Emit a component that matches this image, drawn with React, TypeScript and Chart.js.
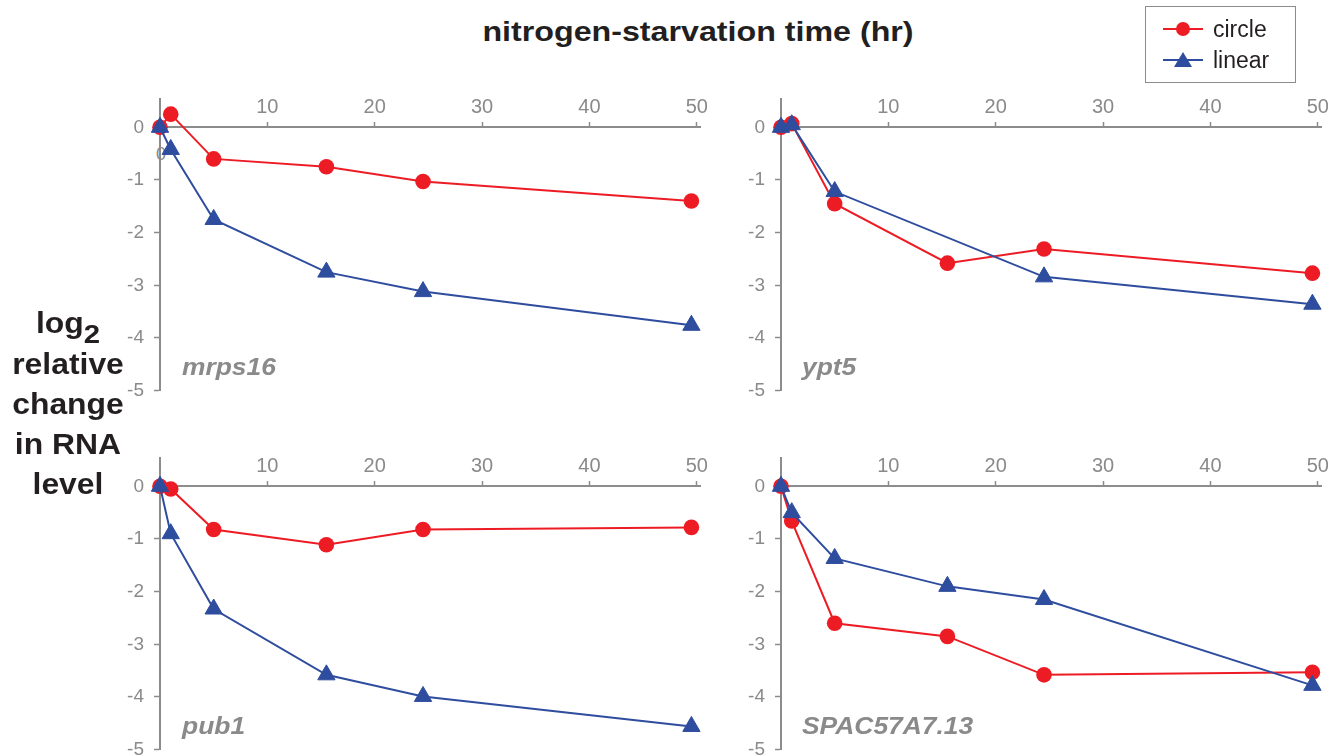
import React, { useEffect, useRef } from "react";
import { Chart, registerables } from "chart.js";

Chart.register(...registerables);

// ---------- data ----------
const hours = [0, 1, 5, 15.5, 24.5, 49.5];
const seriesNames = ["circle", "linear"];
const geneNames = ["mrps16", "ypt5", "pub1", "SPAC57A7.13"];

const mrps16Circle = [0, 0.25, -0.6, -0.75, -1.03, -1.4];
const mrps16Linear = [0, -0.42, -1.75, -2.75, -3.12, -3.76];
const ypt5Circle = [0, 0.07, -1.45, -2.58, -2.31, -2.77];
const ypt5Linear = [0, 0.05, -1.22, null, -2.84, -3.36];
const pub1Circle = [0, -0.05, -0.82, -1.11, -0.82, -0.78];
const pub1Linear = [0, -0.9, -2.33, -3.58, -3.99, -4.56];
const spacCircle = [0, -0.66, -2.6, -2.85, -3.58, -3.53];
const spacLinear = [0, -0.5, -1.37, -1.9, -2.15, -3.78];

const xTickValues = [0, 10, 20, 30, 40, 50];
const yTickValues = [0, -1, -2, -3, -4, -5];

const titleText = "nitrogen-starvation time (hr)";
const yLabelLines = ["relative", "change", "in RNA", "level"];

// ---------- style ----------
const RED = "#ED1C24";
const BLUE = "#2F4D9E";
const AXIS = "#8C8C8C";
const TEXT_GRAY = "#8A8A8A";
const DARK = "#231F20";
const FONT = "'Liberation Sans', Arial, Helvetica, sans-serif";

const X_MAX = 50.3;
const Y_MIN = -5;
const Y_MAX = 0.53;
const PX_X = 10.74;
const PX_Y = 53.2;
const CHART_W = Math.round(X_MAX * PX_X);
const CHART_H = Math.round((Y_MAX - Y_MIN) * PX_Y);
const YAX_W = 60;
const PAD = { left: 10, right: 30, top: 20, bottom: 20 };

type PanelProps = {
  x0: number;
  yTop: number;
  circle: (number | null)[];
  linear: (number | null)[];
};

function Panel({ x0, yTop, circle, linear }: PanelProps) {
  const ref = useRef<HTMLCanvasElement>(null);
  const w = PAD.left + YAX_W + CHART_W + PAD.right;
  const h = PAD.top + CHART_H + PAD.bottom;

  useEffect(() => {
    const hideZero = (ctx: any) =>
      ctx.tick && ctx.tick.value === 0 ? "rgba(0,0,0,0)" : AXIS;
    const chart = new Chart(ref.current as HTMLCanvasElement, {
      type: "line",
      data: {
        datasets: [
          {
            label: seriesNames[1],
            data: hours.map((t, i) => ({ x: t, y: linear[i] })) as any,
            borderColor: BLUE,
            backgroundColor: BLUE,
            borderWidth: 2,
            pointStyle: "triangle",
            pointRadius: 10,
            pointBorderWidth: 1,
            pointBorderColor: BLUE,
            pointBackgroundColor: BLUE,
            spanGaps: true,
            tension: 0,
            order: 0,
            clip: false as any,
          },
          {
            label: seriesNames[0],
            data: hours.map((t, i) => ({ x: t, y: circle[i] })) as any,
            borderColor: RED,
            backgroundColor: RED,
            borderWidth: 2,
            pointStyle: "circle",
            pointRadius: 7.8,
            pointBorderWidth: 0,
            pointBackgroundColor: RED,
            spanGaps: true,
            tension: 0,
            order: 1,
            clip: false as any,
          },
        ],
      },
      options: {
        responsive: false,
        animation: false,
        layout: { padding: PAD },
        plugins: {
          legend: { display: false },
          tooltip: { enabled: false },
        },
        events: [],
        scales: {
          x: {
            type: "linear",
            min: 0,
            max: X_MAX,
            position: { y: 0 } as any,
            afterBuildTicks: (s: any) => {
              s.ticks = xTickValues.map((v) => ({ value: v }));
            },
            grid: {
              drawOnChartArea: false,
              drawTicks: true,
              tickLength: -6,
              tickWidth: 1.5,
              tickColor: hideZero,
            },
            border: { display: true, color: AXIS, width: 2 },
            ticks: {
              padding: -26,
              color: TEXT_GRAY,
              font: { family: FONT, size: 20 },
              autoSkip: false,
              maxRotation: 0,
              callback: (v: any) => (v === 0 ? "" : String(v)),
            },
          },
          y: {
            type: "linear",
            min: Y_MIN,
            max: Y_MAX,
            position: "left",
            afterBuildTicks: (s: any) => {
              s.ticks = yTickValues.map((v) => ({ value: v }));
            },
            afterFit: (s: any) => {
              s.width = YAX_W;
            },
            grid: {
              drawOnChartArea: false,
              drawTicks: true,
              tickLength: 6,
              tickWidth: 1.5,
              tickColor: hideZero,
            },
            border: { display: true, color: AXIS, width: 2 },
            ticks: {
              padding: 10,
              color: TEXT_GRAY,
              font: { family: FONT, size: 19 },
              autoSkip: false,
              callback: (v: any) => String(v),
            },
          },
        },
      },
    });
    return () => chart.destroy();
  }, []);

  return (
    <canvas
      ref={ref}
      width={w}
      height={h}
      style={{
        position: "absolute",
        left: x0 - YAX_W - PAD.left,
        top: yTop - PAD.top,
        width: w,
        height: h,
      }}
    />
  );
}

const geneStyle: React.CSSProperties = {
  position: "absolute",
  fontFamily: FONT,
  fontWeight: "bold",
  fontStyle: "italic",
  fontSize: 24,
  lineHeight: "24px",
  color: TEXT_GRAY,
  whiteSpace: "nowrap",
  transform: "scaleX(1.1)",
  transformOrigin: "left center",
};

export default function App() {
  return (
    <div
      style={{
        position: "fixed",
        left: 0,
        top: 0,
        width: 1343,
        height: 756,
        overflow: "hidden",
        background: "#fff",
      }}
    >
      {/* stray x-axis zero label in first panel */}
      <div
        style={{
          position: "absolute",
          left: 161,
          top: 154,
          transform: "translate(-50%,-50%)",
          fontFamily: FONT,
          fontSize: 18,
          color: TEXT_GRAY,
        }}
      >
        0
      </div>

      <Panel x0={160} yTop={98} circle={mrps16Circle} linear={mrps16Linear} />
      <Panel x0={781} yTop={98} circle={ypt5Circle} linear={ypt5Linear} />
      <Panel x0={160} yTop={457} circle={pub1Circle} linear={pub1Linear} />
      <Panel x0={781} yTop={457} circle={spacCircle} linear={spacLinear} />

      <div style={{ ...geneStyle, left: 182, top: 355 }}>{geneNames[0]}</div>
      <div style={{ ...geneStyle, left: 802, top: 355 }}>{geneNames[1]}</div>
      <div style={{ ...geneStyle, left: 182, top: 714 }}>{geneNames[2]}</div>
      <div style={{ ...geneStyle, left: 802, top: 714 }}>{geneNames[3]}</div>

      {/* title */}
      <div
        style={{
          position: "absolute",
          left: 698,
          top: 32,
          transform: "translate(-50%,-50%) scaleX(1.15)",
          fontFamily: FONT,
          fontWeight: "bold",
          fontSize: 28,
          color: DARK,
          whiteSpace: "nowrap",
        }}
      >
        {titleText}
      </div>

      {/* y label */}
      <div
        style={{
          position: "absolute",
          left: 68,
          top: 303,
          transform: "translateX(-50%) scaleX(1.1)",
          fontFamily: FONT,
          fontWeight: "bold",
          fontSize: 29,
          lineHeight: "40px",
          color: DARK,
          textAlign: "center",
          whiteSpace: "nowrap",
        }}
      >
        <div>
          log
          <span style={{ position: "relative", top: 10, fontSize: "0.92em" }}>2</span>
        </div>
        {yLabelLines.map((l) => (
          <div key={l}>{l}</div>
        ))}
      </div>

      {/* legend */}
      <div
        style={{
          position: "absolute",
          left: 1145,
          top: 6,
          width: 151,
          height: 77,
          border: `1.5px solid ${AXIS}`,
          boxSizing: "border-box",
        }}
      />
      <div style={{ position: "absolute", left: 1163, top: 28, width: 40, height: 2, background: RED }} />
      <div
        style={{
          position: "absolute",
          left: 1183 - 7,
          top: 29 - 7,
          width: 14,
          height: 14,
          borderRadius: "50%",
          background: RED,
        }}
      />
      <div style={{ position: "absolute", left: 1163, top: 59, width: 40, height: 2, background: BLUE }} />
      <div
        style={{
          position: "absolute",
          left: 1183 - 9,
          top: 52,
          width: 0,
          height: 0,
          borderLeft: "9px solid transparent",
          borderRight: "9px solid transparent",
          borderBottom: `15px solid ${BLUE}`,
        }}
      />
      <div
        style={{
          position: "absolute",
          left: 1213,
          top: 29,
          transform: "translateY(-50%)",
          fontFamily: FONT,
          fontSize: 23,
          lineHeight: "23px",
          color: DARK,
        }}
      >
        {seriesNames[0]}
      </div>
      <div
        style={{
          position: "absolute",
          left: 1213,
          top: 60,
          transform: "translateY(-50%)",
          fontFamily: FONT,
          fontSize: 23,
          lineHeight: "23px",
          color: DARK,
        }}
      >
        {seriesNames[1]}
      </div>
    </div>
  );
}
